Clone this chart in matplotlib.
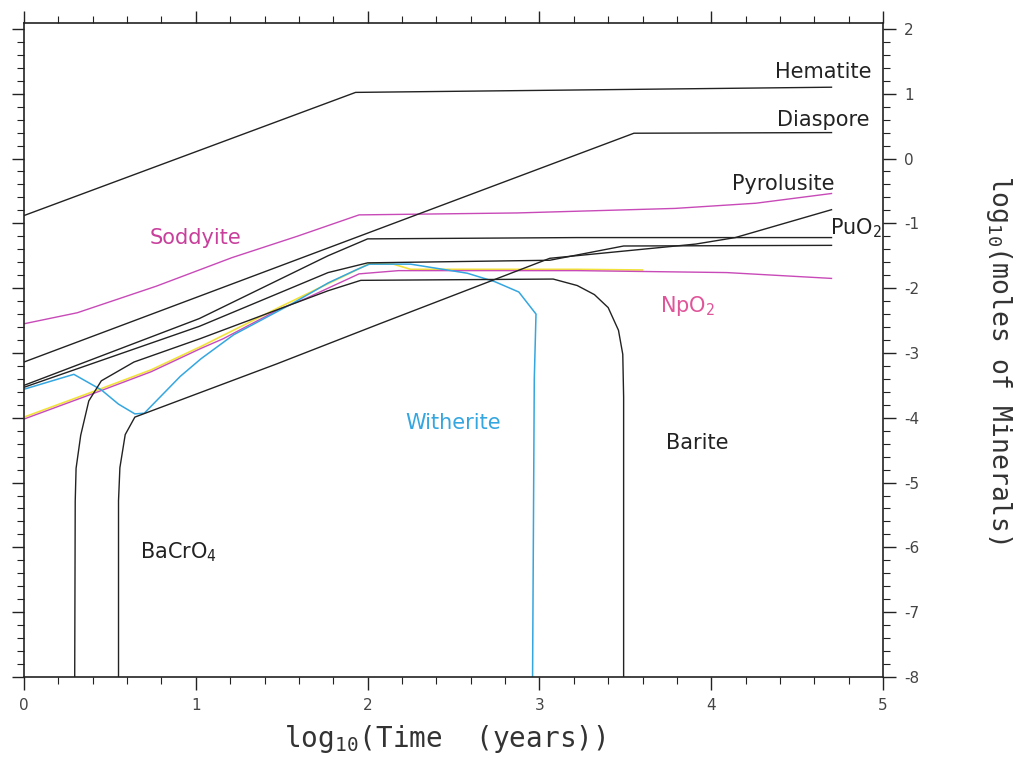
import matplotlib
matplotlib.use("Agg")
import matplotlib.pyplot as plt
from matplotlib.ticker import MultipleLocator

plt.rcParams['font.family'] = ['DejaVu Sans Mono', 'DejaVu Sans']
plt.rcParams['mathtext.fontset'] = 'custom'
plt.rcParams['mathtext.rm'] = 'DejaVu Sans Mono'
plt.rcParams['mathtext.it'] = 'DejaVu Sans Mono'
plt.rcParams['axes.unicode_minus'] = False

# log10(time, years) vs log10(moles)
hematite_x = [0.0, 1.93, 4.70]
hematite_y = [-0.88, 1.02, 1.10]

diaspore_x = [0.0, 3.55, 4.70]
diaspore_y = [-3.14, 0.39, 0.40]

soddyite_x = [0.0, 0.31, 0.77, 1.21, 1.59, 1.95, 2.87, 3.79, 4.26, 4.70]
soddyite_y = [-2.55, -2.38, -1.97, -1.53, -1.20, -0.87, -0.84, -0.77, -0.69, -0.54]

puo2_a_x = [0.0, 1.02, 1.77, 2.00, 3.22, 4.70]
puo2_a_y = [-3.50, -2.47, -1.50, -1.24, -1.22, -1.22]

puo2_b_x = [0.0, 1.02, 1.77, 2.00, 3.06, 3.49, 4.70]
puo2_b_y = [-3.53, -2.59, -1.76, -1.61, -1.57, -1.35, -1.34]

bacro4_x = [0.55, 0.55, 0.558, 0.589, 0.645, 1.47, 2.07, 3.06, 3.91, 4.14, 4.70]
bacro4_y = [-8.0, -5.28, -4.77, -4.26, -3.99, -3.17, -2.55, -1.54, -1.32, -1.22, -0.79]

barite_x = [0.295, 0.298, 0.303, 0.33, 0.377, 0.45, 0.64, 1.025, 1.77, 1.96,
            3.08, 3.22, 3.32, 3.40, 3.46, 3.485, 3.49, 3.49]
barite_y = [-8.0, -5.29, -4.78, -4.27, -3.74, -3.43, -3.14, -2.78, -2.04, -1.88,
            -1.86, -1.96, -2.10, -2.30, -2.65, -3.02, -3.68, -8.0]

witherite_x = [0.0, 0.29, 0.45, 0.55, 0.645, 0.70, 0.84, 0.91, 1.03, 1.22, 1.56,
               1.77, 1.94, 2.01, 2.25, 2.58, 2.74, 2.88, 2.98, 2.97, 2.96]
witherite_y = [-3.56, -3.33, -3.57, -3.79, -3.94, -3.93, -3.55, -3.36, -3.09, -2.72, -2.24,
               -1.92, -1.71, -1.63, -1.63, -1.77, -1.90, -2.06, -2.40, -3.40, -8.0]

npo2_x = [0.0, 0.45, 0.74, 1.03, 1.16, 1.49, 1.64, 1.95, 2.18, 3.22, 4.09, 4.70]
npo2_y = [-4.02, -3.58, -3.29, -2.93, -2.78, -2.32, -2.16, -1.78, -1.73, -1.73, -1.76, -1.85]

yellow_x = [0.0, 0.45, 0.74, 1.03, 1.49, 1.95, 2.01, 2.15, 2.25, 3.22, 3.60]
yellow_y = [-3.99, -3.55, -3.26, -2.90, -2.29, -1.70, -1.62, -1.63, -1.71, -1.71, -1.72]

x_ticks = [0, 1, 2, 3, 4, 5]
y_ticks = [2, 1, 0, -1, -2, -3, -4, -5, -6, -7, -8]

black = '#222222'
magenta = '#c84ab8'
blue = '#34a6e0'
yellow = '#f2e23a'

fig = plt.figure(figsize=(10.31, 7.63), dpi=100)
ax = fig.add_axes([0.0233, 0.1127, 0.8332, 0.8571])

lw = 1.0
ax.plot(yellow_x, yellow_y, color=yellow, lw=1.2)
ax.plot(npo2_x, npo2_y, color=magenta, lw=lw)
ax.plot(soddyite_x, soddyite_y, color=magenta, lw=lw)
ax.plot(witherite_x, witherite_y, color=blue, lw=1.1)
for xs, ys in [(hematite_x, hematite_y), (diaspore_x, diaspore_y),
               (puo2_a_x, puo2_a_y), (puo2_b_x, puo2_b_y),
               (bacro4_x, bacro4_y), (barite_x, barite_y)]:
    ax.plot(xs, ys, color=black, lw=lw)

lab = dict(fontsize=15, ha='center', va='center', family='DejaVu Sans')
ax.text(4.65, 1.33, 'Hematite', color=black, **lab)
ax.text(4.65, 0.59, 'Diaspore', color=black, **lab)
ax.text(4.42, -0.40, 'Pyrolusite', color=black, **lab)
ax.text(4.84, -1.07, 'PuO$_2$', color=black, **lab)
ax.text(3.86, -2.27, 'NpO$_2$', color='#e0559a', **lab)
ax.text(1.00, -1.22, 'Soddyite', color='#c8409c', **lab)
ax.text(2.50, -4.08, 'Witherite', color=blue, **lab)
ax.text(3.92, -4.39, 'Barite', color=black, **lab)
ax.text(0.90, -6.07, 'BaCrO$_4$', color=black, **lab)

ax.set_xlim(0, 5)
ax.set_ylim(-8, 2.09)
ax.set_xticks(x_ticks)
ax.set_xticklabels([str(v) for v in x_ticks])
ax.set_yticks(y_ticks)
ax.set_yticklabels([str(v) for v in y_ticks])
ax.xaxis.set_minor_locator(MultipleLocator(0.2))
ax.yaxis.set_minor_locator(MultipleLocator(0.2))

ax.tick_params(axis='both', which='both', direction='out', colors=black,
               top=True, bottom=True, left=True, right=True,
               labelleft=False, labelright=True, labeltop=False, labelbottom=True)
ax.tick_params(which='major', length=9, width=1.0, labelsize=11, pad=6)
ax.tick_params(which='minor', length=5, width=0.8)
for lbl in ax.get_xticklabels() + ax.get_yticklabels():
    lbl.set_family('DejaVu Sans')
    lbl.set_color('#444444')
for s in ax.spines.values():
    s.set_linewidth(1.2)
    s.set_color(black)

ax.set_xlabel('log$_{10}$(Time  (years))', fontsize=20, color='#333333')
ax.xaxis.set_label_coords(0.49, -0.07)
ax.yaxis.set_label_position('right')
ax.set_ylabel('log$_{10}$(moles of Minerals)', fontsize=19, color='#333333',
              rotation=270, va='center')
ax.yaxis.set_label_coords(1.135, 0.485)

fig.savefig('out.png', dpi=100)
